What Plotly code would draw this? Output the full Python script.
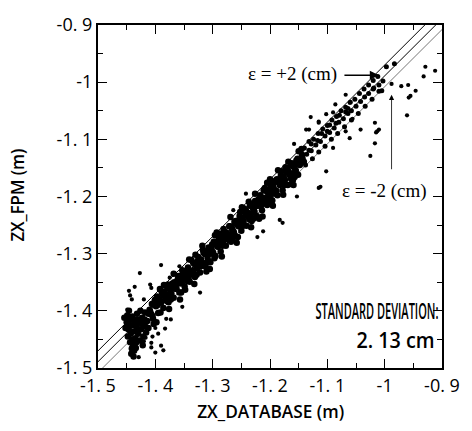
import plotly.graph_objects as go

# ---------------- data ----------------
tick_vals = [-1.5, -1.4, -1.3, -1.2, -1.1, -1.0, -0.9]
tick_text = ["-1. 5", "-1. 4", "-1. 3", "-1. 2", "-1. 1", "-1", "-0. 9"]

# reference lines y = x + offset (as drawn in the picture)
line_x = [-1.5, -0.9]
line_offsets = [0.030, 0.011, -0.008]

blob_pts = [(-1.450,-1.420),(-1.447,-1.432),(-1.445,-1.415),(-1.443,-1.440),(-1.441,-1.425),
            (-1.440,-1.410),(-1.438,-1.436),(-1.436,-1.418),(-1.435,-1.448),(-1.433,-1.428),
            (-1.432,-1.405),(-1.430,-1.440),(-1.428,-1.420),(-1.427,-1.452),(-1.425,-1.432),
            (-1.423,-1.412),(-1.421,-1.445),(-1.420,-1.425),(-1.418,-1.403),(-1.416,-1.438),
            (-1.414,-1.418),(-1.412,-1.430),(-1.448,-1.445),(-1.444,-1.455),(-1.439,-1.462),
            (-1.437,-1.470),(-1.436,-1.458),(-1.434,-1.465),(-1.440,-1.450),(-1.452,-1.430),
            (-1.446,-1.400),(-1.431,-1.415),(-1.426,-1.400),(-1.422,-1.460),(-1.419,-1.415),
            (-1.442,-1.475),(-1.438,-1.480),(-1.454,-1.412),(-1.449,-1.408),(-1.429,-1.432),
            (-1.424,-1.422),(-1.417,-1.428),(-1.433,-1.455),(-1.441,-1.466),(-1.446,-1.424)]

band_pts = [(-1.409,-1.401),(-1.406,-1.388),(-1.404,-1.414),(-1.401,-1.382),
            (-1.399,-1.392),(-1.397,-1.375),(-1.395,-1.404),(-1.392,-1.380),
            (-1.390,-1.386),(-1.388,-1.369),(-1.386,-1.395),(-1.383,-1.372),
            (-1.381,-1.378),(-1.379,-1.360),(-1.377,-1.385),(-1.374,-1.364),
            (-1.372,-1.370),(-1.370,-1.352),(-1.368,-1.377),(-1.365,-1.356),
            (-1.363,-1.362),(-1.361,-1.345),(-1.358,-1.368),(-1.356,-1.340),
            (-1.354,-1.350),(-1.352,-1.334),(-1.349,-1.357),(-1.347,-1.338),
            (-1.345,-1.343),(-1.343,-1.324),(-1.340,-1.349),(-1.338,-1.330),
            (-1.336,-1.333),(-1.334,-1.316),(-1.331,-1.341),(-1.329,-1.318),
            (-1.327,-1.325),(-1.325,-1.306),(-1.322,-1.333),(-1.320,-1.310),
            (-1.318,-1.316),(-1.316,-1.298),(-1.313,-1.322),(-1.311,-1.300),
            (-1.309,-1.306),(-1.307,-1.289),(-1.304,-1.315),(-1.302,-1.292),
            (-1.300,-1.297),(-1.298,-1.279),(-1.295,-1.304),(-1.293,-1.282),
            (-1.291,-1.288),(-1.289,-1.271),(-1.286,-1.296),(-1.284,-1.274),
            (-1.282,-1.279),(-1.280,-1.262),(-1.277,-1.286),(-1.275,-1.264),
            (-1.273,-1.270),(-1.271,-1.252),(-1.268,-1.279),(-1.266,-1.256),
            (-1.264,-1.261),(-1.262,-1.244),(-1.259,-1.270),(-1.257,-1.246),
            (-1.255,-1.252),(-1.253,-1.234),(-1.250,-1.260),(-1.248,-1.238),
            (-1.246,-1.243),(-1.244,-1.226),(-1.241,-1.251),(-1.239,-1.229),
            (-1.237,-1.234),(-1.235,-1.216),(-1.232,-1.243),(-1.230,-1.220),
            (-1.228,-1.225),(-1.226,-1.208),(-1.223,-1.234),(-1.221,-1.211),
            (-1.219,-1.216),(-1.217,-1.198),(-1.214,-1.224),(-1.212,-1.202),
            (-1.210,-1.207),(-1.208,-1.190),(-1.205,-1.215),(-1.203,-1.193),
            (-1.201,-1.198),(-1.199,-1.180),(-1.196,-1.207),(-1.194,-1.184),
            (-1.192,-1.189),(-1.190,-1.172),(-1.187,-1.198),(-1.185,-1.175),
            (-1.183,-1.180),(-1.181,-1.163),(-1.178,-1.189),(-1.176,-1.166),
            (-1.174,-1.171),(-1.172,-1.154),(-1.169,-1.180),(-1.167,-1.157),
            (-1.165,-1.162),(-1.163,-1.146),(-1.160,-1.171),(-1.158,-1.148),
            (-1.156,-1.153),(-1.154,-1.137),(-1.151,-1.162),(-1.149,-1.139),
            (-1.407,-1.406),(-1.398,-1.384),(-1.389,-1.366),(-1.380,-1.383),
            (-1.371,-1.358),(-1.362,-1.349),(-1.353,-1.329),(-1.344,-1.348),
            (-1.335,-1.335),(-1.326,-1.313),(-1.317,-1.293),(-1.308,-1.312),
            (-1.299,-1.299),(-1.290,-1.277),(-1.281,-1.257),(-1.272,-1.276),
            (-1.263,-1.263),(-1.254,-1.241),(-1.245,-1.221),(-1.236,-1.240),
            (-1.227,-1.227),(-1.218,-1.205),(-1.209,-1.185),(-1.200,-1.204),
            (-1.191,-1.191),(-1.182,-1.169),(-1.173,-1.149),(-1.164,-1.168),
            (-1.155,-1.155),(-1.146,-1.133),
            (-1.403,-1.423),(-1.385,-1.355),(-1.366,-1.361),(-1.348,-1.363),(-1.330,-1.302),
            (-1.311,-1.331),(-1.293,-1.263),(-1.274,-1.269),(-1.256,-1.271),(-1.237,-1.209),
            (-1.219,-1.239),(-1.200,-1.170),(-1.182,-1.177),(-1.163,-1.178),(-1.145,-1.117)]

band2_pts = [(-1.410,-1.398),(-1.405,-1.409),(-1.400,-1.380),(-1.396,-1.390),(-1.391,-1.403),
             (-1.387,-1.372),(-1.382,-1.381),(-1.378,-1.354),(-1.373,-1.380),(-1.369,-1.359),
             (-1.364,-1.361),(-1.360,-1.339),(-1.355,-1.368),(-1.351,-1.344),(-1.346,-1.330),
             (-1.342,-1.344),(-1.337,-1.311),(-1.333,-1.329),(-1.328,-1.337),(-1.324,-1.311),
             (-1.319,-1.317),(-1.315,-1.296),(-1.310,-1.316),(-1.306,-1.297),(-1.301,-1.284),
             (-1.297,-1.308),(-1.292,-1.287),(-1.288,-1.265),(-1.283,-1.286),(-1.279,-1.268),
             (-1.274,-1.272),(-1.270,-1.252),(-1.265,-1.273),(-1.261,-1.247),(-1.256,-1.250),
             (-1.252,-1.227),(-1.247,-1.251),(-1.243,-1.233),(-1.238,-1.235),(-1.234,-1.214),
             (-1.229,-1.239),(-1.225,-1.217),(-1.220,-1.205),(-1.216,-1.216),(-1.211,-1.189),
             (-1.207,-1.202),(-1.202,-1.209),(-1.198,-1.186),(-1.193,-1.175),(-1.189,-1.190),
             (-1.184,-1.175),(-1.180,-1.156),(-1.175,-1.180),(-1.171,-1.158),(-1.166,-1.162),
             (-1.162,-1.142),(-1.157,-1.166),(-1.153,-1.142),(-1.148,-1.145),(-1.144,-1.127)]

band3_pts = [(-1.398,-1.420),(-1.392,-1.362),(-1.376,-1.397),(-1.368,-1.335),(-1.357,-1.380),
             (-1.341,-1.310),(-1.332,-1.353),(-1.318,-1.286),(-1.305,-1.327),(-1.296,-1.268),
             (-1.284,-1.305),(-1.269,-1.236),(-1.258,-1.281),(-1.249,-1.219),(-1.233,-1.254),
             (-1.226,-1.195),(-1.213,-1.235),(-1.205,-1.176),(-1.195,-1.216),(-1.186,-1.154),
             (-1.177,-1.197),(-1.168,-1.139),(-1.159,-1.180),(-1.150,-1.121),
             (-1.412,-1.405),(-1.394,-1.384),(-1.384,-1.366),(-1.375,-1.372),(-1.367,-1.350),
             (-1.357,-1.352),(-1.350,-1.336),(-1.339,-1.337),(-1.332,-1.318),(-1.321,-1.322),
             (-1.314,-1.300),(-1.303,-1.300),(-1.296,-1.280),(-1.285,-1.283),(-1.278,-1.262),
             (-1.267,-1.266),(-1.260,-1.243),(-1.249,-1.247),(-1.242,-1.224),(-1.231,-1.229),
             (-1.224,-1.210),(-1.213,-1.212),(-1.206,-1.188),(-1.195,-1.195),(-1.188,-1.170),
             (-1.177,-1.176),(-1.170,-1.152),(-1.159,-1.160),(-1.152,-1.134),(-1.141,-1.139)]

upper_strand = [(-1.140,-1.115),(-1.132,-1.104),(-1.124,-1.100),(-1.116,-1.090),(-1.108,-1.082),
                (-1.100,-1.076),(-1.092,-1.066),(-1.084,-1.060),(-1.076,-1.050),(-1.068,-1.044),
                (-1.060,-1.035),(-1.052,-1.030),(-1.044,-1.020),(-1.036,-1.012),(-1.028,-1.005),
                (-1.020,-0.997),(-1.012,-0.990),(-0.997,-0.973),(-0.983,-0.968),
                (-1.128,-1.108),(-1.110,-1.090),(-1.096,-1.075),(-1.079,-1.058),(-1.064,-1.046)]
middle_strand = [(-1.142,-1.133),(-1.136,-1.126),(-1.128,-1.120),(-1.120,-1.110),(-1.112,-1.104),
                 (-1.104,-1.094),(-1.096,-1.088),(-1.088,-1.080),(-1.080,-1.070),(-1.072,-1.064),
                 (-1.064,-1.055),(-1.058,-1.050),(-1.050,-1.042),(-1.042,-1.034),(-1.035,-1.026),
                 (-1.028,-1.020),(-1.020,-1.012),(-1.010,-1.005),(-1.003,-0.998),
                 (-1.132,-1.119),(-1.117,-1.102),(-1.100,-1.086),(-1.085,-1.072),(-1.068,-1.052)]
lower_strand = [(-1.138,-1.145),(-1.126,-1.134),(-1.115,-1.122),(-1.104,-1.112),(-1.093,-1.100),
                (-1.082,-1.090),(-1.070,-1.078),(-1.058,-1.066),(-1.046,-1.055),(-1.034,-1.042),
                (-1.022,-1.030),(-1.010,-1.016),(-1.019,-1.010),(-1.005,-1.015)]

scatter_pts = [(-1.427,-1.334),(-1.444,-1.373),(-1.446,-1.365),(-1.436,-1.358),(-1.407,-1.360),
               (-1.390,-1.320),(-1.358,-1.322),(-1.375,-1.342),(-1.409,-1.354),(-1.449,-1.398),
               (-1.441,-1.380),(-1.420,-1.380),(-1.400,-1.473),(-1.417,-1.447),(-1.407,-1.456),
               (-1.429,-1.481),(-1.383,-1.431),(-1.381,-1.414),(-1.390,-1.461),(-1.386,-1.469),
               (-1.373,-1.415),(-1.353,-1.393),(-1.322,-1.368),(-1.407,-1.464),(-1.420,-1.453),
               (-1.400,-1.430),(-1.395,-1.440),(-1.405,-1.445),
               (-1.242,-1.195),(-1.264,-1.224),(-1.158,-1.108),(-1.129,-1.061),(-1.115,-1.071),
               (-1.137,-1.083),(-1.132,-1.083),(-1.102,-1.056),(-1.086,-1.039),(-1.068,-1.022),
               (-1.061,-1.036),(-1.090,-1.053),(-1.115,-1.069),
               (-1.115,-1.185),(-1.112,-1.183),(-1.102,-1.156),(-1.183,-1.241),(-1.178,-1.246),
               (-1.222,-1.271),(-1.212,-1.261),(-1.153,-1.200),(-1.042,-1.083),(-1.061,-1.098),
               (-1.068,-1.086),(-1.090,-1.115),(-1.056,-1.064)]

outlier_pts = [(-0.929,-0.973),(-0.912,-0.980),(-0.932,-0.990),(-0.959,-1.005),(-0.946,-1.015),
               (-0.958,-1.027),(-0.955,-1.024),(-0.971,-1.007),(-0.961,-1.058),(-1.010,-1.083),
               (-1.013,-1.086),(-1.017,-1.107),(-1.025,-1.129),(-0.988,-1.003),(-1.017,-1.071),
               (-1.015,-1.088)]

# ---------------- figure ----------------
fig = go.Figure()

line_styles = [dict(color="black", width=1), dict(color="black", width=1),
               dict(color="#555555", width=0.8)]
for off, st in zip(line_offsets, line_styles):
    fig.add_trace(go.Scatter(x=line_x, y=[v + off for v in line_x], mode="lines",
                             line=st, hoverinfo="skip", showlegend=False))

dense = blob_pts + band_pts + band2_pts + band3_pts
strands = upper_strand + middle_strand + lower_strand
sparse = scatter_pts + outlier_pts
fig.add_trace(go.Scatter(x=[p[0] for p in dense], y=[p[1] for p in dense], mode="markers",
                         marker=dict(color="black", size=6.5, line=dict(width=0)),
                         showlegend=False))
fig.add_trace(go.Scatter(x=[p[0] for p in strands], y=[p[1] for p in strands], mode="markers",
                         marker=dict(color="black", size=5, line=dict(width=0)),
                         showlegend=False))
fig.add_trace(go.Scatter(x=[p[0] for p in sparse], y=[p[1] for p in sparse], mode="markers",
                         marker=dict(color="black", size=4.2, line=dict(width=0)),
                         showlegend=False))

tick_font = dict(family="Open Sans", size=18, color="black", weight=500)
title_font = dict(family="Open Sans", size=18, color="black", weight=600)
note_font = dict(family="Open Sans", size=21, color="black", weight=600)

axis_common = dict(range=[-1.5, -0.9], tickvals=tick_vals, ticktext=tick_text,
                   ticks="inside", ticklen=9, tickwidth=1.2, tickcolor="black",
                   showline=True, linecolor="black", linewidth=2, mirror="ticks",
                   showgrid=False, zeroline=False, tickfont=tick_font,
                   minor=dict(dtick=0.05, tick0=-1.5, ticks="inside", ticklen=5,
                              tickwidth=1, tickcolor="black", showgrid=False))

fig.update_layout(
    width=472, height=431,
    margin=dict(l=98, r=20, t=14, b=63),
    paper_bgcolor="white", plot_bgcolor="white",
    xaxis=dict(**axis_common),
    yaxis=dict(**axis_common),
)

serif = dict(family="Liberation Serif, Times New Roman, serif", size=19, color="black")
annots = [
    dict(x=-1.161, y=-0.986, xref="x", yref="y", text="ε = +2 (cm)", showarrow=False, font=serif),
    dict(x=-1.0, y=-1.190, xref="x", yref="y", text="ε = -2 (cm)", showarrow=False, font=serif),
    dict(x=-1.010, y=-0.988, xref="x", yref="y", ax=-36, ay=0, text="", showarrow=True,
         arrowhead=2, arrowsize=1.3, arrowwidth=1.4, arrowcolor="black"),
    dict(x=-0.988, y=-1.022, xref="x", yref="y", ax=0, ay=76, text="", showarrow=True,
         arrowhead=2, arrowsize=1.3, arrowwidth=0.8, arrowcolor="black"),
    dict(x=-1.0127, y=-1.400, xref="x", yref="y", xanchor="center", yanchor="middle",
         text="STANDARD DEVIATION:", showarrow=False, font=note_font, width=128),
    dict(x=-0.9814, y=-1.451, xref="x", yref="y", xanchor="center", yanchor="middle",
         text="2. 13 cm", showarrow=False, font=note_font),
    dict(x=0.5, y=-0.124, xref="paper", yref="paper", xanchor="center", yanchor="middle",
         text="ZX_DATABASE (m)", showarrow=False, font=title_font),
    dict(x=-0.234, y=0.503, xref="paper", yref="paper", xanchor="center", yanchor="middle",
         text="ZX_FPM (m)", textangle=-90, showarrow=False, font=title_font),
]
fig.update_layout(annotations=annots)

post = """
var fit = {"STANDARD DEVIATION:": 123, "2. 13 cm": 78, "ZX_DATABASE (m)": 147, "ZX_FPM (m)": 93};
var gd = document.getElementById('{plot_id}');
gd.querySelectorAll('text.annotation-text').forEach(function(t){
  var w = fit[t.textContent];
  if (w) { t.setAttribute('textLength', w); t.setAttribute('lengthAdjust', 'spacingAndGlyphs'); }
});
"""
fig.write_html("out.html", post_script=post)
